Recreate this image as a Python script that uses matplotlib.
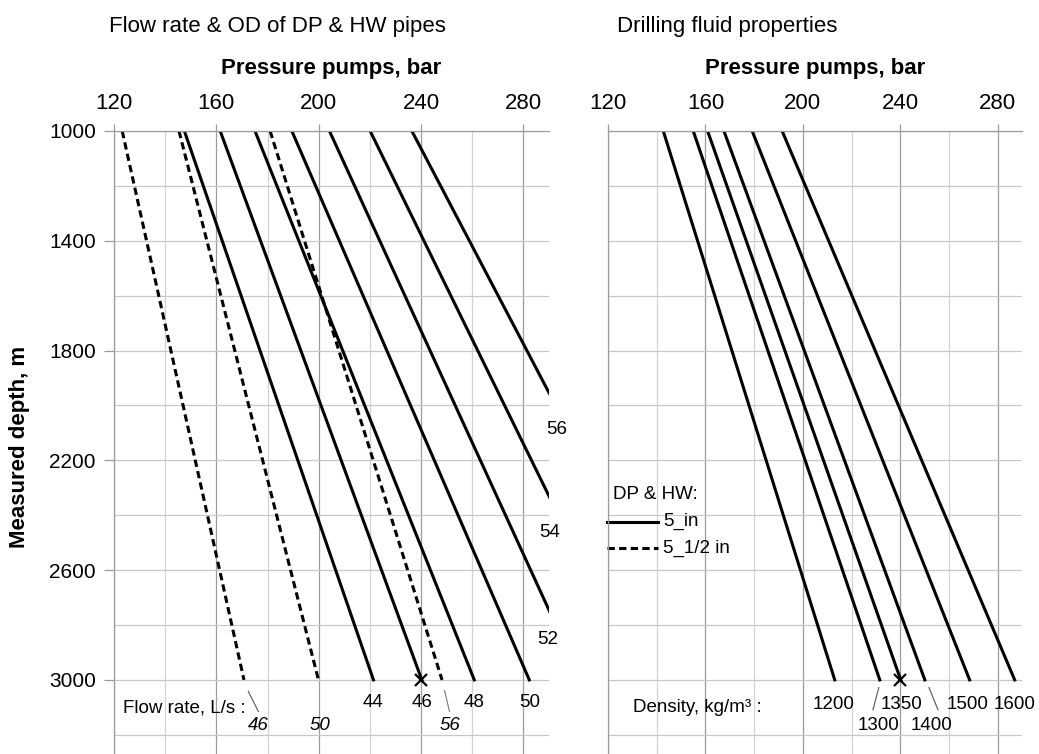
import matplotlib
matplotlib.use("Agg")
import matplotlib.pyplot as plt

plt.rcParams['font.family'] = ['Liberation Sans', 'DejaVu Sans']

# --- data (pressure in bar at MD 1000 m and 3000 m) ---
depth_ends = [1000, 3000]

flow_5in = [44, 46, 48, 50, 52, 54, 56]
p_5in_top = [147.5, 161.5, 175.1, 189.5, 204.2, 220.1, 236.4]
p_5in_bot = [221.4, 240.3, 260.8, 282.3, 302.5, 325.2, 348.8]

flow_55in = [46, 50, 56]
p_55in_top = [123.2, 145.4, 181.0]
p_55in_bot = [170.8, 199.9, 248.2]

density = [1200, 1300, 1350, 1400, 1500, 1600]
p_dens_top = [142.7, 155.0, 160.9, 167.6, 179.2, 191.5]
p_dens_bot = [213.1, 231.6, 240.2, 250.1, 268.5, 287.0]

marked_point = (240, 3000)

xticks = [120, 160, 200, 240, 280]
yticks = [1000, 1400, 1800, 2200, 2600, 3000]

W, H = 1039, 754
fig = plt.figure(figsize=(W / 100, H / 100), dpi=100)
axL = fig.add_axes([114 / W, 0, 435 / W, 623 / H])
axR = fig.add_axes([608 / W, 0, 414 / W, 623 / H])

DASH = (2.4, 1.4)
SMALL = 13.5


def style(ax, ylab):
    ax.set_xlim(120, 290); ax.set_ylim(3270, 1000)
    ax.xaxis.tick_top()
    ax.set_xticks(xticks); ax.set_xticks(range(140, 290, 40), minor=True)
    ax.set_yticks(yticks); ax.set_yticks(range(1200, 3201, 400), minor=True)
    ax.grid(which='major', axis='x', color='#9c9c9c', lw=0.9)
    ax.grid(which='minor', axis='x', color='#d2d2d2', lw=0.9)
    ax.grid(which='both', axis='y', color='#c8c8c8', lw=0.9)
    ax.tick_params(axis='x', which='major', length=5, width=0.9, color='#9c9c9c', pad=7, labelsize=16)
    ax.tick_params(which='minor', length=0)
    ax.tick_params(axis='y', which='major', length=7 if ylab else 0, width=0.9, color='#9c9c9c',
                   pad=6, labelsize=15, labelleft=ylab)
    for s in ['right', 'bottom']:
        ax.spines[s].set_visible(False)
    for s in ['top', 'left']:
        ax.spines[s].set_color('#9c9c9c'); ax.spines[s].set_linewidth(0.9)
    ax.set_axisbelow(True)
    ax.text(0.5, 1 + 57 / 623, "Pressure pumps, bar", transform=ax.transAxes, ha='center',
            va='baseline', fontsize=16, fontweight='bold')


style(axL, True)
style(axR, False)

# left panel: flow rate & pipe OD
for q, a, b in zip(flow_5in, p_5in_top, p_5in_bot):
    axL.plot([a, b], depth_ends, color='k', lw=2.2)
for q, a, b in zip(flow_55in, p_55in_top, p_55in_bot):
    axL.plot([a, b], depth_ends, color='k', lw=2.2, ls=(0, DASH))
axL.plot(*marked_point, marker='x', color='k', ms=8, mew=1.6, clip_on=False, zorder=5)

axL.text(123.4, 3104, "Flow rate, L/s :", fontsize=SMALL, va='center', ha='left')
for q, b in zip(flow_5in[:4], p_5in_bot[:4]):
    axL.text(b, 3084, str(q), fontsize=SMALL, ha='center', va='center')
# solid lines that leave through the right edge
for q, yy, xx in zip(flow_5in[4:], [2854, 2463, 2089], [289.6, 290.2, 292.9]):
    axL.text(xx, yy, str(q), fontsize=SMALL, ha='center', va='center', clip_on=False)
for q, xx in zip(flow_55in, [176.2, 200.6, 251.4]):
    axL.text(xx, 3167, str(q), fontsize=SMALL, ha='center', va='center', style='italic')
axL.plot([172.5, 176.4], [3042, 3115], color='#555555', lw=0.8)
axL.plot([249.2, 251.1], [3039, 3115], color='#777777', lw=0.8)

# right panel: drilling fluid density
for d, a, b in zip(density, p_dens_top, p_dens_bot):
    axR.plot([a, b], depth_ends, color='k', lw=2.2)
axR.plot(*marked_point, marker='x', color='k', ms=8, mew=1.6, clip_on=False, zorder=5)

axR.text(130.1, 3102, "Density, kg/m³ :", fontsize=SMALL, va='center', ha='left')
upper = {1200: 212.8, 1350: 240.5, 1500: 267.8, 1600: 287.0}
lower = {1300: 230.9, 1400: 252.8}
for d in density:
    if d in upper:
        axR.text(upper[d], 3091, str(d), fontsize=SMALL, ha='center', va='center')
    else:
        axR.text(lower[d], 3167, str(d), fontsize=SMALL, ha='center', va='center')
axR.plot([231.2, 228.8], [3028, 3109], color='#555555', lw=0.8)
axR.plot([251.8, 255.5], [3028, 3109], color='#555555', lw=0.8)

# legend drawn by hand
axR.text(121.9, 2326, "DP & HW:", fontsize=SMALL, va='center', ha='left')
axR.plot([119.5, 140.6], [2423, 2423], color='k', lw=2.2, clip_on=False)
axR.plot([119.5, 140.6], [2520, 2520], color='k', lw=2.2, ls=(0, DASH), clip_on=False)
axR.text(142.7, 2423, "5_in", fontsize=SMALL, va='center', ha='left')
axR.text(142.7, 2520, "5_1/2 in", fontsize=SMALL, va='center', ha='left')

fig.text(109 / W, 1 - 32 / H, "Flow rate & OD of DP & HW pipes", fontsize=16, va='baseline')
fig.text(617 / W, 1 - 32 / H, "Drilling fluid properties", fontsize=16, va='baseline')
fig.text(20 / W, 1 - 447 / H, "Measured depth, m", fontsize=16, fontweight='bold',
         rotation=90, ha='center', va='center')

fig.savefig("out.png", dpi=100)
